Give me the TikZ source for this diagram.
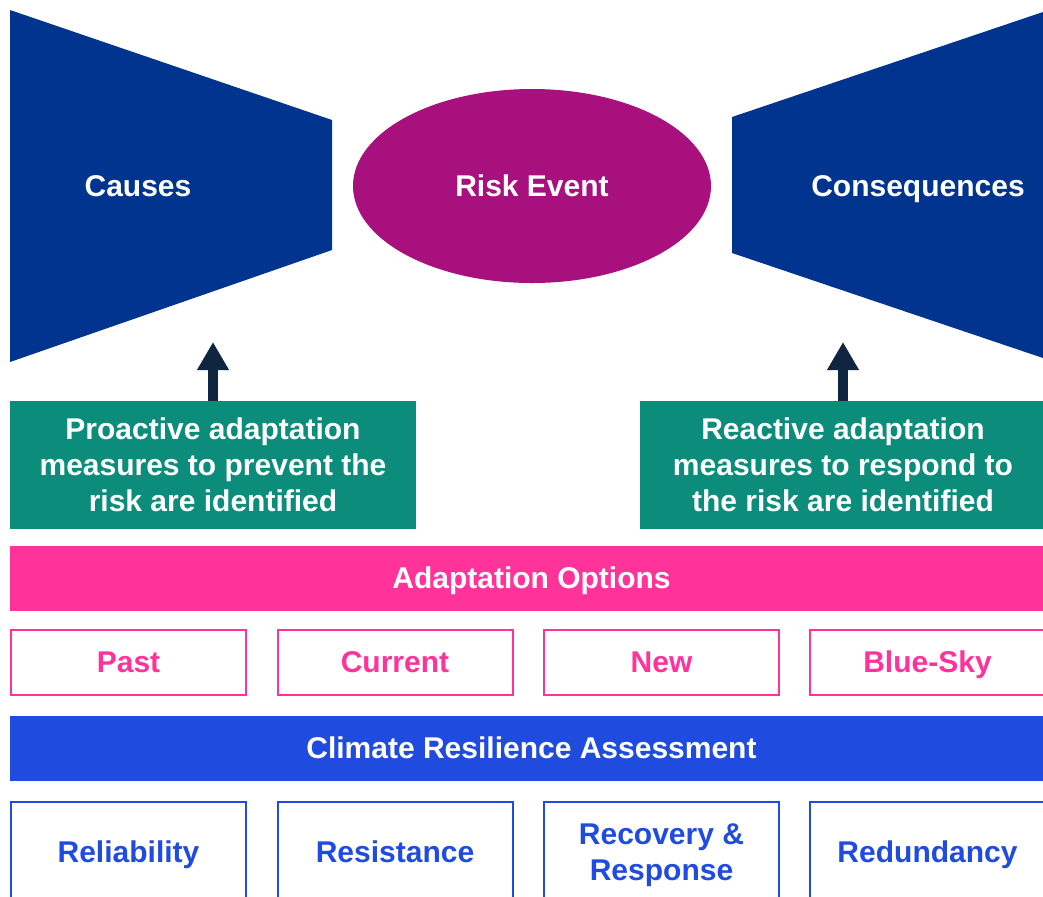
\documentclass[tikz,border=0pt]{standalone}
\usepackage{fontspec}
\setmainfont{Liberation Sans}
\usepackage{tikz}
\usetikzlibrary{arrows.meta}
\usetikzlibrary{shapes,arrows}
\definecolor{navy}{RGB}{0,52,142}
\definecolor{riskmag}{RGB}{168,16,126}
\definecolor{measgreen}{RGB}{12,140,122}
\definecolor{optpink}{RGB}{255,51,153}
\definecolor{assblue}{RGB}{31,75,223}
\definecolor{arrowdark}{RGB}{16,38,64}

\begin{document}
\begin{tikzpicture}[x=0.5pt,y=-0.5pt,font=\bfseries\fontsize{15}{18}\selectfont]
	\def \eventrow{186}
	\def \measrow{465}
	\def \optbar{578}
	\def \optrow{662.5}
	\def \assbar{748.5}
	\def \assrow{852}
	\tikzstyle{one-line}=[text height=12pt,text depth=2pt]
	\tikzstyle{ev-node}=[ellipse,fill=riskmag,text=white,inner sep=0pt,minimum width=179pt,minimum height=97pt]
	\tikzstyle{m-box}=[rectangle,fill=measgreen,text=white,align=center,inner sep=0pt,minimum width=203pt,minimum height=64pt]
	\tikzstyle{bar}=[rectangle,one-line,text=white,inner sep=0pt,minimum width=521.5pt,minimum height=32.5pt]
	\tikzstyle{o-box}=[rectangle,one-line,draw=optpink,line width=1pt,text=optpink,inner sep=0pt,minimum width=117.5pt,minimum height=32.5pt]
	\tikzstyle{a-box}=[rectangle,draw=assblue,line width=1pt,text=assblue,align=center,inner sep=0pt,minimum width=117.5pt,minimum height=50pt]
	\tikzstyle{up}=[draw=arrowdark,line width=5pt,-{Triangle[width=15pt,length=14pt]}]
	\useasboundingbox (0,0) rectangle (1043,896);

	% bow tie
	\fill[navy] (10,10) -- (332,120) -- (332,250) -- (10,362) -- cycle;
	\fill[navy] (732,117) -- (1043,12) -- (1043,358) -- (732,253) -- cycle;
	\node[one-line,text=white]	(causes)	at (138,\eventrow)	{Causes};
	\node[ev-node,one-line]		(risk)		at (532,\eventrow)	{Risk Event};
	\node[one-line,text=white]	(consequences)	at (918,\eventrow)	{Consequences};

	% measures
	\node[m-box]	(proactive)	at (213,\measrow)	{Proactive adaptation\\measures to prevent the\\risk are identified};
	\node[m-box]	(reactive)	at (843,\measrow)	{Reactive adaptation\\measures to respond to\\the risk are identified};
	\coordinate (proactive-tip)	at (213,342);
	\coordinate (reactive-tip)	at (843,342);
	\draw[up] (proactive.north) -- (proactive-tip);
	\draw[up] (reactive.north) -- (reactive-tip);

	% adaptation options
	\node[bar,fill=optpink]	(options)	at (531.5,\optbar)	{Adaptation Options};
	\node[o-box]	(past)		at (128.5,\optrow)	{Past};
	\node[o-box]	(current)	at (395,\optrow)	{Current};
	\node[o-box]	(new)		at (661.5,\optrow)	{New};
	\node[o-box]	(bluesky)	at (927.5,\optrow)	{Blue-Sky};

	% resilience assessment
	\node[bar,fill=assblue]	(assessment)	at (531.5,\assbar)	{Climate Resilience Assessment};
	\node[a-box,one-line]	(reliability)	at (128.5,\assrow)	{Reliability};
	\node[a-box,one-line]	(resistance)	at (395,\assrow)	{Resistance};
	\node[a-box,minimum height=53pt]	(recovery)	at (661.5,855)	{Recovery \&\\Response};
	\node[a-box,one-line]	(redundancy)	at (927.5,\assrow)	{Redundancy};
\end{tikzpicture}
\end{document}
